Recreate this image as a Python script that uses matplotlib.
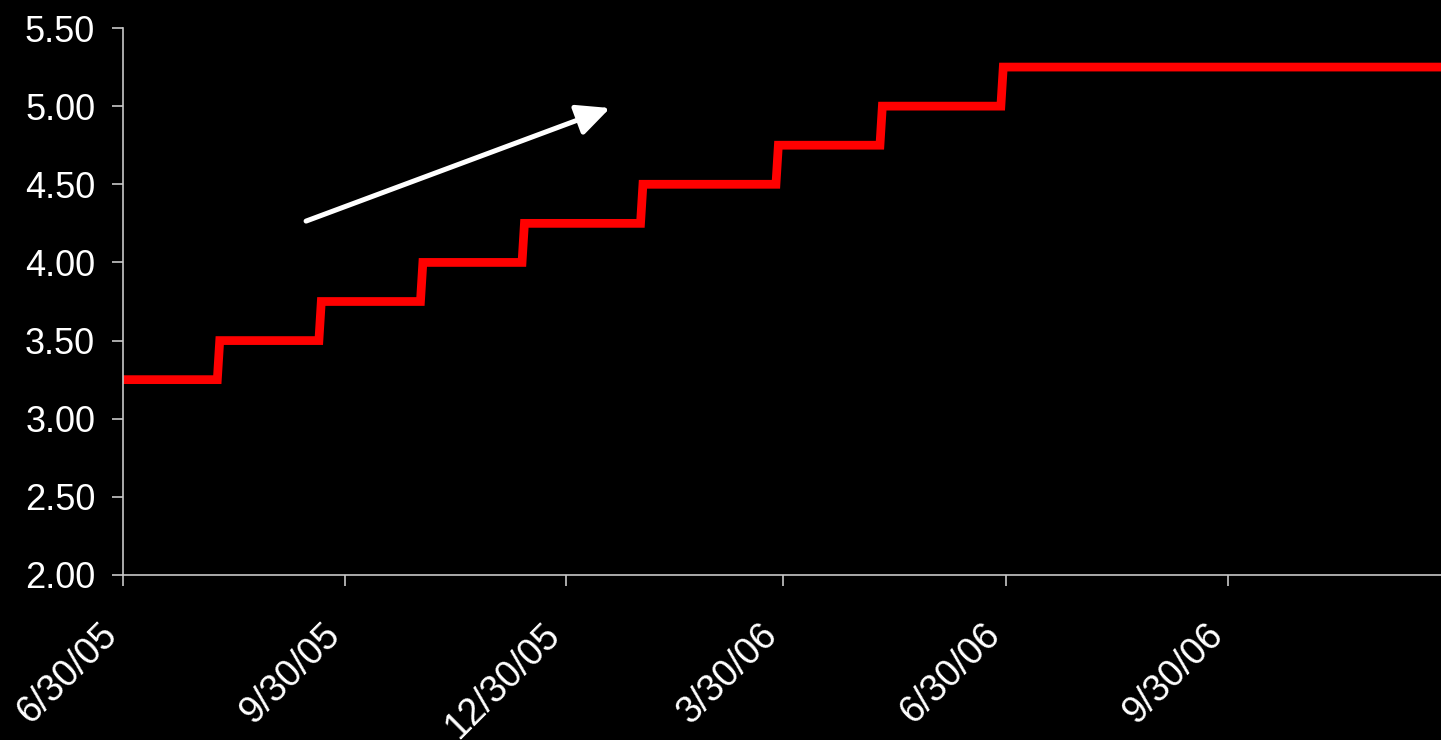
import datetime as dt
import matplotlib
matplotlib.use("Agg")
import matplotlib.pyplot as plt
import matplotlib.dates as mdates
from matplotlib.ticker import FormatStrFormatter
from matplotlib.transforms import ScaledTranslation

# fed funds target changes, mid-2005 through 2006
change_dates = ["2005-06-30", "2005-08-09", "2005-09-20", "2005-11-01", "2005-12-13",
                "2006-01-31", "2006-03-28", "2006-05-10", "2006-06-29"]
rates = [3.25, 3.50, 3.75, 4.00, 4.25, 4.50, 4.75, 5.00, 5.25]
end_date = "2006-12-27"

tick_dates = ["2005-06-30", "2005-09-30", "2005-12-30", "2006-03-30", "2006-06-30", "2006-09-30"]
tick_labels = ["6/30/05", "9/30/05", "12/30/05", "3/30/06", "6/30/06", "9/30/06"]
y_ticks = [2.0, 2.5, 3.0, 3.5, 4.0, 4.5, 5.0, 5.5]

def to_date(s):
    return dt.datetime.strptime(s, "%Y-%m-%d")

# daily series: the rate moves from the prior day's close to the new level
xs, ys = [to_date(change_dates[0])], [rates[0]]
for d, r in zip(change_dates[1:], rates[1:]):
    day = to_date(d)
    xs.append(day - dt.timedelta(days=1))
    ys.append(ys[-1])
    xs.append(day)
    ys.append(r)
xs.append(to_date(end_date))
ys.append(rates[-1])

plt.rcParams["font.family"] = ["Liberation Sans", "DejaVu Sans"]

fig = plt.figure(figsize=(14.41, 7.40), dpi=100, facecolor="black")
ax = fig.add_axes([123 / 1441, 1 - 575 / 740, 1 - 123 / 1441, (575 - 28) / 740])
ax.set_facecolor("black")

ax.plot(xs, ys, color="#ff0000", lw=6.3, solid_joinstyle="miter",
        solid_capstyle="butt", clip_on=False)

ax.set_xlim(to_date(change_dates[0]), to_date(end_date))
ax.set_ylim(2.0, 5.5)
ax.set_yticks(y_ticks)
ax.yaxis.set_major_formatter(FormatStrFormatter("%.2f"))
ax.set_xticks([mdates.date2num(to_date(t)) for t in tick_dates])
ax.set_xticklabels(tick_labels, rotation=45, ha="right", va="center", rotation_mode="anchor")

for side in ["top", "right"]:
    ax.spines[side].set_visible(False)
for side in ["left", "bottom"]:
    ax.spines[side].set_color("#c8c8c8")
    ax.spines[side].set_linewidth(1.2)

ax.tick_params(axis="y", colors="#c8c8c8", labelcolor="white", labelsize=26,
               length=8, width=1.2, pad=12)
ax.tick_params(axis="x", colors="#c8c8c8", labelcolor="white", labelsize=27,
               length=8, width=1.2, pad=30)

# nudge the slanted date labels down and to the left of their ticks
shift = ScaledTranslation(-0.11, -0.02, fig.dpi_scale_trans)
for lbl in ax.get_xticklabels():
    lbl.set_transform(lbl.get_transform() + shift)

# upward trend arrow
ax.annotate("", xy=(0.3695, 0.8537), xytext=(0.1389, 0.647), xycoords="axes fraction",
            arrowprops=dict(arrowstyle="-|>,head_length=0.4,head_width=0.19",
                            mutation_scale=50, color="white", lw=3.6,
                            shrinkA=0, shrinkB=0))

fig.savefig("out.png", dpi=100, facecolor="black")
